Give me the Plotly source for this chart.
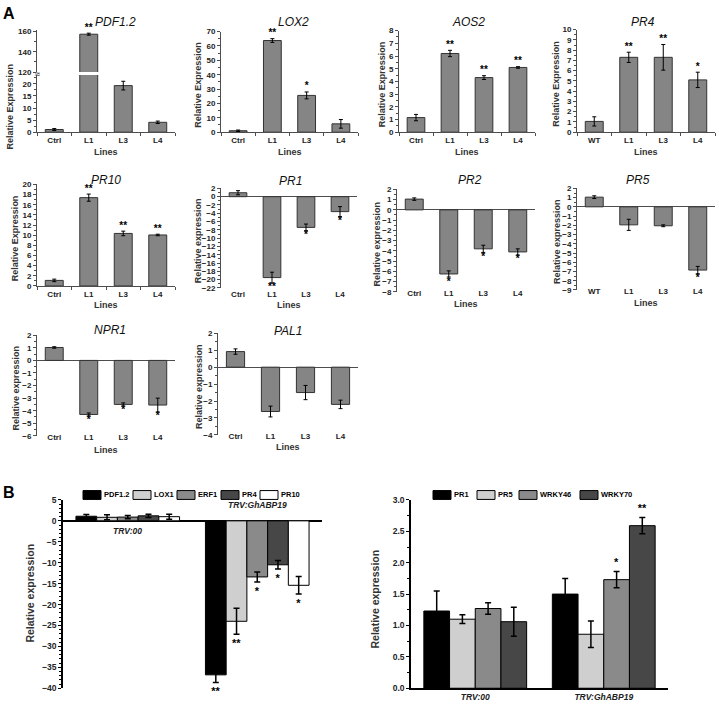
import plotly.graph_objects as go

W, H = 719, 710

# ---------------- Panel A data ----------------
LINES_CTRL = ["Ctrl", "L1", "L3", "L4"]
LINES_WT = ["WT", "L1", "L3", "L4"]

pdf12_mean = [1.1, 157.5, 19.3, 4.1]
pdf12_err = [0.4, 1.0, 1.8, 0.5]
pdf12_sig = ["", "**", "", ""]

lox2_mean = [1.0, 63.8, 25.6, 5.8]
lox2_err = [0.5, 1.3, 2.4, 3.0]
lox2_sig = ["", "**", "*", ""]

aos2_mean = [1.15, 6.2, 4.3, 5.1]
aos2_err = [0.25, 0.25, 0.15, 0.06]
aos2_sig = ["", "**", "**", "**"]

pr4_mean = [1.05, 7.3, 7.3, 5.1]
pr4_err = [0.45, 0.5, 1.25, 0.75]
pr4_sig = ["", "**", "**", "*"]

pr10_mean = [1.1, 17.4, 10.35, 10.05]
pr10_err = [0.25, 0.7, 0.45, 0.15]
pr10_sig = ["", "**", "**", "**"]

pr1_mean = [0.95, -19.5, -7.4, -3.6]
pr1_err = [0.5, 1.3, 0.8, 1.2]
pr1_sig = ["", "**", "*", "*"]

pr2_mean = [1.05, -6.25, -3.8, -4.1]
pr2_err = [0.12, 0.3, 0.35, 0.3]
pr2_sig = ["", "*", "*", "*"]

pr5_mean = [1.05, -1.95, -2.05, -6.85]
pr5_err = [0.15, 0.6, 0.1, 0.4]
pr5_sig = ["", "", "", "*"]

npr1_mean = [1.03, -4.3, -3.5, -3.55]
npr1_err = [0.06, 0.12, 0.12, 0.55]
npr1_sig = ["", "*", "*", "*"]

pal1_mean = [0.92, -2.62, -1.5, -2.2]
pal1_err = [0.16, 0.32, 0.42, 0.25]
pal1_sig = ["", "", "", ""]

# ---------------- Panel B data ----------------
B_GROUPS = ["TRV:00", "TRV:GhABP19"]

ja_genes = ["PDF1.2", "LOX1", "ERF1", "PR4", "PR10"]
ja_trv00 = [1.1, 0.85, 0.9, 1.2, 1.0]
ja_trv00_err = [0.4, 0.6, 0.4, 0.4, 0.6]
ja_abp19 = [-36.8, -24.0, -13.4, -10.5, -15.4]
ja_abp19_err = [1.8, 3.1, 1.2, 1.0, 2.1]
ja_abp19_sig = ["**", "**", "*", "*", "*"]

sa_genes = ["PR1", "PR5", "WRKY46", "WRKY70"]
sa_trv00 = [1.23, 1.10, 1.27, 1.06]
sa_trv00_err = [0.32, 0.07, 0.09, 0.23]
sa_abp19 = [1.50, 0.86, 1.73, 2.59]
sa_abp19_err = [0.25, 0.21, 0.13, 0.13]
sa_abp19_sig = ["", "", "*", "**"]

# ---------------- style ----------------
FONT = "Liberation Sans, Arial, sans-serif"
AX = "#4d4d4d"
BAR_FILL = "#858585"
BAR_EDGE = "#333333"
JA_COLORS = ["#000000", "#cfcfcf", "#8a8a8a", "#474747", "#ffffff"]
SA_COLORS = ["#000000", "#cfcfcf", "#8a8a8a", "#474747"]
# legend swatch left edges (px)
JA_LEG_X = [83, 133, 177, 221, 260]
SA_LEG_X = [433, 477, 519, 580]
LEG_Y = 497


def fx(p):
    return p / W


def fy(p):
    return 1 - p / H


def bold(size, color="#222222", **kw):
    return dict(family=FONT, size=size, color=color, weight="bold", **kw)


def label(text, x, y, font, angle=0, xanchor="center"):
    return dict(text=text, x=fx(x), y=fy(y), xref="paper", yref="paper", showarrow=False,
                xanchor=xanchor, yanchor="middle", textangle=angle, font=font)


# pixel boxes: (x0, x1, y_top, y_bottom)
PANELS_A = [
    dict(title="PDF1.2", cats=LINES_CTRL, mean=pdf12_mean, err=pdf12_err, sig=pdf12_sig,
         box=(37, 175, 71, 129), yr=[0, 23.7], dtick=5, minor=2.5, ylab="Relative Expression",
         ytx=10, label_y=135, lines_y=149, title_y=17, title_x=115,
         upper=dict(top=25, bottom=68, yr=[120, 162], dtick=20, minor=10)),
    dict(title="LOX2", cats=LINES_CTRL, mean=lox2_mean, err=lox2_err, sig=lox2_sig,
         box=(221, 358, 27, 129), yr=[0, 70], dtick=10, minor=5, ylab="Relative Expression",
         ytx=198, label_y=135, lines_y=149, title_y=17, title_x=293),
    dict(title="AOS2", cats=LINES_CTRL, mean=aos2_mean, err=aos2_err, sig=aos2_sig,
         box=(399, 535, 26, 129), yr=[0, 8], dtick=1, minor=0.5, ylab="Relative Expression",
         ytx=382, label_y=135, lines_y=149, title_y=17, title_x=468),
    dict(title="PR4", cats=LINES_WT, mean=pr4_mean, err=pr4_err, sig=pr4_sig,
         box=(577, 715, 25, 129), yr=[0, 10], dtick=1, minor=0.5, ylab="Relative Expression",
         ytx=556, label_y=135, lines_y=149, title_y=17, title_x=643),
    dict(title="PR10", cats=LINES_CTRL, mean=pr10_mean, err=pr10_err, sig=pr10_sig,
         box=(37, 175, 182, 285), yr=[0, 20], dtick=2, minor=1, ylab="Relative Expression",
         ytx=15, label_y=292, lines_y=304, title_y=178, title_x=106),
    dict(title="PR1", cats=LINES_CTRL, mean=pr1_mean, err=pr1_err, sig=pr1_sig,
         box=(221, 357, 186, 287), yr=[-22, 2], dtick=2, minor=1, ylab="Relative expression",
         ytx=198, label_y=293, lines_y=304, title_y=179, title_x=290),
    dict(title="PR2", cats=LINES_CTRL, mean=pr2_mean, err=pr2_err, sig=pr2_sig,
         box=(397, 535, 187, 291), yr=[-8, 2], dtick=1, minor=0.5, ylab="Relative expression",
         ytx=377, label_y=292, lines_y=303, title_y=178, title_x=470),
    dict(title="PR5", cats=LINES_WT, mean=pr5_mean, err=pr5_err, sig=pr5_sig,
         box=(577, 715, 186, 289), yr=[-9, 2], dtick=1, minor=0.5, ylab="Relative expression",
         ytx=557, label_y=290, lines_y=302, title_y=178, title_x=638),
    dict(title="NPR1", cats=LINES_CTRL, mean=npr1_mean, err=npr1_err, sig=npr1_sig,
         box=(37, 175, 335, 437), yr=[-6, 2], dtick=1, minor=0.5, ylab="Relative expression",
         ytx=16, label_y=438, lines_y=451, title_y=330, title_x=110),
    dict(title="PAL1", cats=LINES_CTRL, mean=pal1_mean, err=pal1_err, sig=pal1_sig,
         box=(218, 358, 333, 436), yr=[-4, 2], dtick=1, minor=0.5, ylab="Relative expression",
         ytx=199, label_y=437, lines_y=448, title_y=331, title_x=288),
]

fig = go.Figure()
lay = {}
ann = []
shapes = []
counters = {"x": 0, "y": 0}


def new_axis(kind):
    counters[kind] += 1
    n = counters[kind]
    suffix = "" if n == 1 else str(n)
    return f"{kind}axis{suffix}", f"{kind}{suffix}"


def y_style(bottom, top, rng, dtick, minor, anchor, zero, color=AX, lw=1, size=8):
    return dict(domain=[fy(bottom), fy(top)], range=rng, anchor=anchor, dtick=dtick, tick0=0,
                showline=True, linecolor=color, linewidth=lw, ticks="outside", ticklen=3,
                tickcolor=color, tickfont=bold(size), showgrid=False, zeroline=zero,
                zerolinecolor=color, zerolinewidth=lw, fixedrange=True,
                minor=dict(dtick=minor, tick0=0, ticks="outside", ticklen=2, tickcolor=color,
                           showgrid=False))


for p in PANELS_A:
    x0, x1, ytop, ybot = p["box"]
    xk, xr = new_axis("x")
    yk, yr = new_axis("y")
    neg = p["yr"][0] < 0
    lay[yk] = y_style(ybot, ytop, p["yr"], p["dtick"], p["minor"], xr, neg)
    lay[xk] = dict(domain=[fx(x0), fx(x1)], type="category", range=[-0.5, 3.5],
                   showgrid=False, zeroline=False, tickfont=bold(8), fixedrange=True)
    if neg:
        lay[xk].update(anchor="free", position=fy(p["label_y"] - 6), showline=False, ticks="")
    else:
        lay[xk].update(anchor=yr, showline=True, linecolor=AX, linewidth=1, ticks="outside",
                       tickson="boundaries", ticklen=3, tickcolor=AX)

    bar_kw = dict(x=p["cats"], y=p["mean"], width=0.52,
                  marker=dict(color=BAR_FILL, line=dict(color=BAR_EDGE, width=1)),
                  error_y=dict(type="data", array=p["err"], color="black", thickness=1, width=2),
                  showlegend=False, hoverinfo="skip")
    fig.add_trace(go.Bar(xaxis=xr, yaxis=yr, **bar_kw))
    star_axis = yr

    if "upper" in p:
        u = p["upper"]
        uk, ur = new_axis("y")
        lay[uk] = y_style(u["bottom"], u["top"], u["yr"], u["dtick"], u["minor"], xr, False)
        fig.add_trace(go.Bar(xaxis=xr, yaxis=ur, **bar_kw))
        star_axis = ur
        ann.append(label("≈", x0, u["bottom"] + 1.5, bold(9, AX)))

    idx = [i for i, s in enumerate(p["sig"]) if s]
    if idx:
        fig.add_trace(go.Scatter(
            x=[p["cats"][i] for i in idx],
            y=[p["mean"][i] + p["err"][i] if p["mean"][i] >= 0 else p["mean"][i] - p["err"][i]
               for i in idx],
            text=[p["sig"][i] for i in idx],
            textposition=["top center" if p["mean"][i] >= 0 else "bottom center" for i in idx],
            mode="text", textfont=bold(10, "black"), cliponaxis=False,
            xaxis=xr, yaxis=star_axis, showlegend=False, hoverinfo="skip"))

    ann.append(label(f"<i>{p['title']}</i>", p["title_x"], p["title_y"],
                     dict(family=FONT, size=12, color="#111111")))
    ann.append(label(p["ylab"], p["ytx"], (ytop + ybot) / 2 + 3, bold(9, "#333333"), angle=-90))
    ann.append(label("Lines", (x0 + x1) / 2, p["lines_y"], bold(9, "#333333")))


def star_values(vals, errs):
    return [v + e if v >= 0 else v - e for v, e in zip(vals, errs)]


def add_legend(names, colors, xs):
    for name, col, lx in zip(names, colors, xs):
        shapes.append(dict(type="rect", xref="paper", yref="paper", x0=fx(lx), x1=fx(lx + 18),
                           y0=fy(LEG_Y + 4.5), y1=fy(LEG_Y - 4.5), fillcolor=col,
                           line=dict(color="black", width=1)))
        ann.append(label(name, lx + 19, LEG_Y, bold(7.5, "black"), xanchor="left"))


# ---------------- Panel B left ----------------
xk, xr = new_axis("x")
yk, yr = new_axis("y")
lay[yk] = y_style(693, 502, [-40, 5], 5, 1, xr, True, color="black", lw=1.5, size=8.5)
lay[xk] = dict(domain=[fx(63), fx(322)], type="category", range=[-0.5, 1.5], anchor=yr,
               showline=False, showticklabels=False, ticks="", showgrid=False, zeroline=False,
               fixedrange=True)
for i, g in enumerate(ja_genes):
    fig.add_trace(go.Bar(
        x=B_GROUPS, y=[ja_trv00[i], ja_abp19[i]], name=g, offsetgroup=f"ja{i}",
        marker=dict(color=JA_COLORS[i], line=dict(color="black", width=1)),
        error_y=dict(type="data", array=[ja_trv00_err[i], ja_abp19_err[i]], color="black",
                     thickness=1.5, width=3),
        xaxis=xr, yaxis=yr, showlegend=False, hoverinfo="skip"))
    ends = star_values([ja_trv00[i], ja_abp19[i]], [ja_trv00_err[i], ja_abp19_err[i]])
    fig.add_trace(go.Bar(
        x=B_GROUPS, base=ends, y=[0.01 if e >= 0 else -0.01 for e in ends],
        text=["", ja_abp19_sig[i]], textposition="outside", textangle=0, constraintext="none",
        textfont=bold(11, "black"), offsetgroup=f"ja{i}", cliponaxis=False,
        marker=dict(color="rgba(0,0,0,0)", line=dict(width=0)),
        xaxis=xr, yaxis=yr, showlegend=False, hoverinfo="skip"))
add_legend(ja_genes, JA_COLORS, JA_LEG_X)
ann.append(dict(text="<b><i>TRV:00</i></b>", x=B_GROUPS[0], y=0, xref=xr, yref=yr, yshift=-10,
                xanchor="center", yanchor="middle", showarrow=False,
                font=dict(family=FONT, size=8.5, color="#222222")))
ann.append(dict(text="<b><i>TRV:GhABP19</i></b>", x=B_GROUPS[1], y=0, xref=xr, yref=yr,
                yshift=16, xanchor="center", yanchor="middle", showarrow=False,
                font=dict(family=FONT, size=8.5, color="#222222")))
ann.append(label("Relative expression", 30, 597, bold(10.5, "#333333"), angle=-90))

# ---------------- Panel B right ----------------
xk, xr = new_axis("x")
yk, yr = new_axis("y")
lay[yk] = y_style(693, 502, [0, 3], 0.5, 0.25, xr, False, color="black", lw=1.5, size=8.5)
lay[yk]["tickformat"] = ".1f"
lay[xk] = dict(domain=[fx(411), fx(668)], type="category", range=[-0.5, 1.5], anchor=yr,
               showline=True, linecolor="black", linewidth=1.5, ticks="", showgrid=False,
               zeroline=False, tickfont=bold(8.5, "#222222", style="italic"), fixedrange=True)
for i, g in enumerate(sa_genes):
    fig.add_trace(go.Bar(
        x=B_GROUPS, y=[sa_trv00[i], sa_abp19[i]], name=g, offsetgroup=f"sa{i}",
        marker=dict(color=SA_COLORS[i], line=dict(color="black", width=1)),
        error_y=dict(type="data", array=[sa_trv00_err[i], sa_abp19_err[i]], color="black",
                     thickness=1.5, width=3),
        xaxis=xr, yaxis=yr, showlegend=False, hoverinfo="skip"))
    ends = star_values([sa_trv00[i], sa_abp19[i]], [sa_trv00_err[i], sa_abp19_err[i]])
    fig.add_trace(go.Bar(
        x=B_GROUPS, base=ends, y=[0.001, 0.001],
        text=["", sa_abp19_sig[i]], textposition="outside", textangle=0, constraintext="none",
        textfont=bold(11, "black"), offsetgroup=f"sa{i}", cliponaxis=False,
        marker=dict(color="rgba(0,0,0,0)", line=dict(width=0)),
        xaxis=xr, yaxis=yr, showlegend=False, hoverinfo="skip"))
add_legend(sa_genes, SA_COLORS, SA_LEG_X)
ann.append(label("Relative expression", 375, 603, bold(10.5, "#333333"), angle=-90))

# panel letters
ann.append(label("<b>A</b>", 9, 9, dict(family=FONT, size=16, color="black")))
ann.append(label("<b>B</b>", 9, 494, dict(family=FONT, size=16, color="black")))

fig.update_layout(
    width=W, height=H, margin=dict(l=0, r=0, t=0, b=0),
    paper_bgcolor="white", plot_bgcolor="white",
    font=dict(family=FONT, color="#222222"),
    barmode="group", bargap=0.2, bargroupgap=0,
    showlegend=False,
    annotations=ann, shapes=shapes,
    **lay,
)

# page body has a default 8px margin; drop it so the figure fills the window exactly
fig.write_html("out.html", config={"displayModeBar": False},
               post_script="document.body.style.margin='0';document.body.style.overflow='hidden';")
